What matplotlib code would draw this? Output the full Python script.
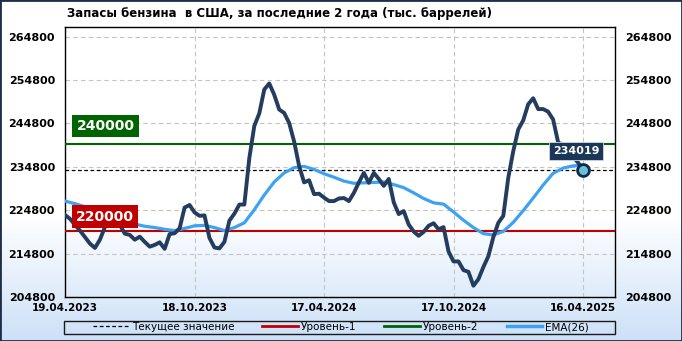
import numpy as np
import pandas as pd
import matplotlib
matplotlib.use('Agg')
from matplotlib import pyplot as plt
from matplotlib.lines import Line2D
from matplotlib.patches import Rectangle

plt.rcParams['font.family'] = ['DejaVu Sans']

# weekly gasoline stocks, thousand barrels
dates = pd.date_range('2023-04-19', periods=105, freq='7D')
stocks = [223700, 222800, 221400, 220100, 218600, 217100, 216100, 218000, 220900, 222400,
          221900, 221400, 219400, 219100, 218000, 218700, 217500, 216400, 216800, 217400,
          215900, 219300, 219500, 220600, 225400, 226000, 224300, 223500, 223600, 218400,
          216200, 216000, 217500, 222400, 224000, 226100, 226100, 236800, 244200, 247100,
          252600, 254000, 251400, 248000, 247200, 244900, 240600, 235000, 231200, 231700,
          228500, 228600, 227700, 226900, 226900, 227500, 227600, 226900, 228800, 231200,
          233400, 231100, 233400, 232000, 230400, 232000, 226600, 223900, 224600, 221500,
          219900, 218900, 219800, 221200, 221800, 220400, 220900, 215300, 213000, 213000,
          211000, 210600, 207400, 208900, 211700, 214200, 218600, 221900, 223500, 232300,
          238400, 243400, 245500, 249200, 250600, 248100, 248100, 247500, 245700, 240500,
          239600, 238300, 237100, 235800, 234019]
# EMA(26), read every second week
ema_dates = dates[::2]
ema = [226900, 226300, 225600, 225000, 224200, 223500, 222600, 221600, 221100, 220800,
       220400, 220100, 220600, 221200, 221300, 220800, 220100, 220800, 221900, 224900,
       228300, 231300, 233400, 234600, 234900, 234200, 233200, 232400, 231500, 231000,
       231100, 231200, 231300, 230700, 230000, 228800, 227500, 226500, 226200, 224400,
       222500, 220800, 219400, 219100, 219900, 222000, 224700, 227600, 230600, 233300,
       234500, 235000, 235200]
level1 = 220000
level2 = 240000
yticks = np.arange(204800, 264801, 10000)
tick_dates = dates[::26]
tick_labels = ['19.04.2023', '18.10.2023', '17.04.2024', '17.10.2024', '16.04.2025']
title = 'Запасы бензина  в США, за последние 2 года (тыс. баррелей)'
legend_labels = ['Текущее значение', 'Уровень-1', 'Уровень-2', 'EMA(26)']

navy = '#243c5e'
blue = '#3ea2f2'
red = '#c00000'
green = '#006400'

fig = plt.figure(figsize=(6.82, 3.41), dpi=100)

# background gradient
bg = fig.add_axes([0, 0, 1, 1], zorder=-10)
h = 341
t = np.clip((np.arange(h) - 215) / (h - 215), 0, 1)
top = np.array([1.0, 1.0, 1.0])
bot = np.array([0.80, 0.88, 0.97])
grad = top[None, :] * (1 - t[:, None]) + bot[None, :] * t[:, None]
bg.imshow(grad[:, None, :], aspect='auto', extent=[0, 1, 0, 1])
bg.set_axis_off()

ax = fig.add_axes([64.7 / 682, 44 / 341, (615 - 64.7) / 682, (297 - 27.3) / 341])
ax.set_facecolor('none')

last = stocks[-1]
ax.axhline(level1, color=red, lw=1.5, zorder=3)
ax.axhline(level2, color=green, lw=1.5, zorder=3)
ax.axhline(last, color='black', lw=0.9, ls=(0, (3, 2)), zorder=3)
ax.plot(ema_dates, ema, color=blue, lw=2.3, zorder=4, solid_capstyle='round')
ax.plot(dates, stocks, color=navy, lw=2.8, zorder=5, solid_joinstyle='round')
ax.plot(dates[-1], last, 'o', ms=8.5, mfc='#6cc0d6', mec='#0f2a50', mew=2, zorder=6)

ax.set_ylim(204800, 266940)
ax.set_xlim(dates[0] - pd.Timedelta(days=0.5), dates[-1] + pd.Timedelta(days=45))
ax.set_yticks(yticks)
ax.set_yticklabels([str(v) for v in yticks])
ax.set_xticks(tick_dates)
ax.set_xticklabels(tick_labels)
ax.grid(True, color='#c4c4c4', ls=(0, (4, 3)), lw=0.8)
ax.tick_params(axis='y', length=0, pad=7, labelright=True, labelsize=8)
ax.tick_params(axis='x', length=0, pad=4, labelsize=7.5)
for lab in ax.get_xticklabels() + ax.get_yticklabels():
    lab.set_fontweight('bold')
for lab in ax.yaxis.get_ticklabels(which='major'):
    pass
for s in ax.spines.values():
    s.set_color('black')
    s.set_linewidth(1)

# level labels
ax.annotate(str(level2), xy=(dates[8] + pd.Timedelta(days=1), level2), xytext=(0, 13.2),
            textcoords='offset points', ha='center', va='center', color='white',
            fontsize=10, fontweight='bold', zorder=7,
            bbox=dict(boxstyle='square,pad=0.3', fc=green, ec='none'))
ax.annotate(str(level1), xy=(dates[8] + pd.Timedelta(days=0), level1), xytext=(0, 10.4),
            textcoords='offset points', ha='center', va='center', color='white',
            fontsize=10, fontweight='bold', zorder=7,
            bbox=dict(boxstyle='square,pad=0.3', fc=red, ec='none'))
ax.annotate(str(last), xy=(dates[-1], last), xytext=(-5, 14),
            textcoords='offset points', ha='center', va='center', color='white',
            fontsize=8, fontweight='bold', zorder=7,
            bbox=dict(boxstyle='square,pad=0.35', fc='#1c3658', ec='#d0d8e4', lw=0.6))

fig.text(67 / 682, 1 - 13 / 341, title, fontsize=8.5, fontweight='bold', va='center', ha='left')

# legend
handles = [Line2D([], [], color='black', lw=0.9, ls=(0, (3, 2))),
           Line2D([], [], color=red, lw=2),
           Line2D([], [], color=green, lw=2),
           Line2D([], [], color=blue, lw=2.5)]
fig.legend(handles, legend_labels, loc='center', bbox_to_anchor=(341 / 682, 1 - 327 / 341),
           ncol=4, frameon=False, fontsize=7.5, handlelength=3.4, handletextpad=0.3,
           columnspacing=2.7, borderpad=0, borderaxespad=0)
fig.add_artist(Rectangle((63.5 / 682, 1 - 333.5 / 341), (615 - 63.5) / 682, 13 / 341,
                         transform=fig.transFigure, fill=False, ec='#1a1a1a', lw=1))
fig.add_artist(Rectangle((0, 0), 1, 1, transform=fig.transFigure, fill=False,
                         ec='#1e2e4a', lw=2))

fig.savefig('out.png', dpi=100)
